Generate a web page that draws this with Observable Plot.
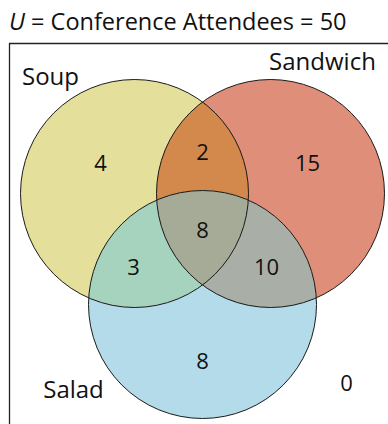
<!DOCTYPE html>
<html>
<head>
<meta charset="utf-8">
<script src="https://cdn.jsdelivr.net/npm/d3@7"></script>
<script src="https://cdn.jsdelivr.net/npm/@observablehq/plot@0.6"></script>
<style>
  body { margin: 0; background: #fff; }
  #wrap { position: relative; width: 388px; height: 424px; overflow: hidden; }
  #title { position: absolute; left: 9px; top: 4px; font: 23.5px "Open Sans", sans-serif; line-height: 34px; color: #111; white-space: nowrap; }
  #chart { position: absolute; left: 0; top: 0; }
</style>
</head>
<body>
<div id="wrap"><div id="chart"></div><div id="title"><i>U</i> = Conference Attendees = 50</div></div>
<script>
// ---- data ----
const universeLabel = "Conference Attendees";
const universeTotal = 50;
const sets = ["Soup", "Sandwich", "Salad"];
const regionKeys = ["Soup", "Sandwich", "Salad", "Soup∩Sandwich", "Soup∩Salad", "Sandwich∩Salad", "Soup∩Sandwich∩Salad", "None"];
const regionCounts = [4, 15, 8, 2, 3, 10, 8, 0];

// ---- layout (pixel geometry) ----
const W = 388, H = 424;
const R = 114;
const centers = {Soup: [134, 193], Sandwich: [270, 193], Salad: [202, 304]};
const setLabelPos = {Soup: [50, 77], Sandwich: [322, 62], Salad: [73, 390]};
const countPos = [[100, 163], [307, 163], [202, 361], [202, 152], [133, 267], [266, 267], [202, 230], [346, 383]];
const framePos = {x: 9, y: 43};

// ---- styles ----
const setFill = {Soup: "#e4e09b", Sandwich: "#df8e79", Salad: "#b4dbe9"};
const pairFill = {"Soup∩Sandwich": "#d3894b", "Soup∩Salad": "#a6d3be", "Sandwich∩Salad": "#a9aea6"};
const tripleFill = "#a6ab98";

// intersection polygon of several circles (convex): boundary samples inside all others
function intersection(names) {
  const pts = [];
  const N = 720;
  for (const n of names) {
    const [cx, cy] = centers[n];
    for (let i = 0; i < N; i++) {
      const a = (i / N) * 2 * Math.PI;
      const x = cx + R * Math.cos(a), y = cy + R * Math.sin(a);
      if (names.every(m => m === n || Math.hypot(x - centers[m][0], y - centers[m][1]) <= R + 1e-9)) pts.push({x, y});
    }
  }
  const mx = d3.mean(pts, d => d.x), my = d3.mean(pts, d => d.y);
  pts.sort((p, q) => Math.atan2(p.y - my, p.x - mx) - Math.atan2(q.y - my, q.x - mx));
  return pts;
}

const circleData = sets.map(s => ({set: s, x: centers[s][0], y: centers[s][1]}));
const lensMarks = Object.keys(pairFill).map(k =>
  Plot.line(intersection(k.split("∩")), {x: "x", y: "y", fill: pairFill[k], stroke: "none", curve: "linear-closed"}));
const tripleMark = Plot.line(intersection(sets), {x: "x", y: "y", fill: tripleFill, stroke: "none", curve: "linear-closed"});

const countData = regionKeys.map((k, i) => ({key: k, count: regionCounts[i], x: countPos[i][0], y: countPos[i][1]}));
const labelData = sets.map(s => ({set: s, x: setLabelPos[s][0], y: setLabelPos[s][1]}));

const chart = Plot.plot({
  width: W, height: H,
  margin: 0,
  x: {domain: [0, W], range: [0, W], axis: null},
  y: {domain: [0, H], range: [0, H], axis: null},
  style: {fontFamily: "'Open Sans', sans-serif", background: "#fff"},
  marks: [
    Plot.ruleX([framePos.x], {y1: framePos.y, y2: H + 5, stroke: "#222", strokeWidth: 1.3}),
    Plot.ruleY([framePos.y], {x1: framePos.x, x2: W + 5, stroke: "#222", strokeWidth: 1.3}),
    Plot.dot(circleData, {x: "x", y: "y", r: R, fill: d => setFill[d.set], stroke: "none"}),
    ...lensMarks,
    tripleMark,
    Plot.dot(circleData, {x: "x", y: "y", r: R, fill: "none", stroke: "#1a1a1a", strokeWidth: 1}),
    Plot.text(countData, {x: "x", y: "y", text: d => String(d.count), fontSize: 22, fill: "#111", textAnchor: "middle", lineAnchor: "middle"}),
    Plot.text(labelData, {x: "x", y: "y", text: "set", fontSize: 24, fill: "#111", textAnchor: "middle", lineAnchor: "middle"})
  ]
});
document.getElementById("chart").appendChild(chart);
</script>
</body>
</html>
